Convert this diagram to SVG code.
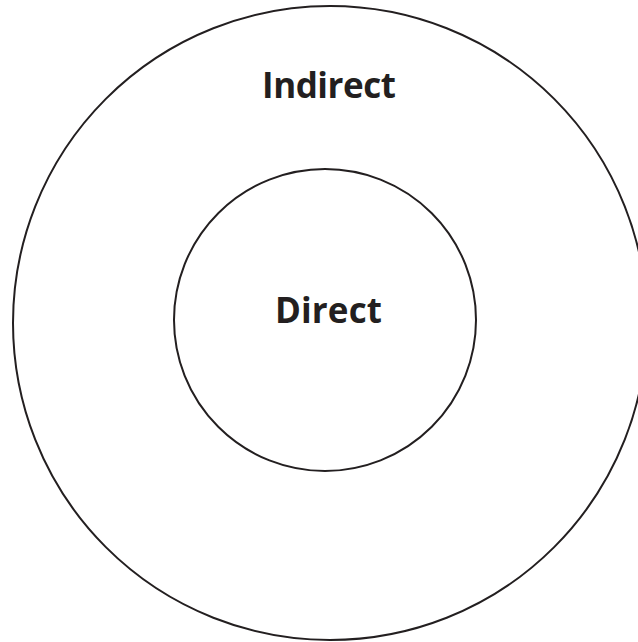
<svg xmlns="http://www.w3.org/2000/svg" width="638" height="642" viewBox="0 0 638 642">
<style>
.ring{fill:none;stroke:#231f20;stroke-width:2}
.lbl{font-family:"Open Sans",Lato,"Liberation Sans",sans-serif;font-weight:bold;font-size:35px;fill:#231f20;text-anchor:middle}
</style>
<rect width="638" height="642" fill="#fff"/>
<g id="indirect">
<circle class="ring" cx="330" cy="323" r="317"/>
<text class="lbl" x="329" y="98" textLength="134" lengthAdjust="spacing">Indirect</text>
</g>
<g id="direct">
<circle class="ring" cx="325" cy="320" r="151"/>
<text class="lbl" x="328.5" y="323" textLength="107" lengthAdjust="spacing">Direct</text>
</g>
<g id="connectors"></g>
</svg>
